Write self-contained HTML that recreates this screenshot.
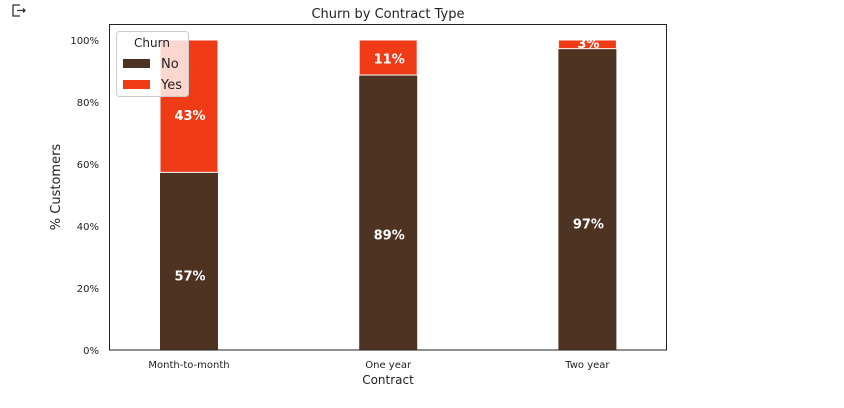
<!DOCTYPE html>
<html><head><meta charset="utf-8"><style>
body{margin:0;background:#fff;width:844px;height:403px;overflow:hidden;font-family:"Liberation Sans","DejaVu Sans",sans-serif}
svg text{font-family:"DejaVu Sans","Liberation Sans",sans-serif}
</style></head><body>
<svg id="c" width="844" height="403">
<g stroke="#333" fill="none" stroke-width="1.3"><path d="M20 5H13V16H20"/><path d="M17 10.5H25M23 8.5L25 10.5L23 12.5"/></g>
<text x="388" y="18" text-anchor="middle" font-size="13" fill="#222">Churn by Contract Type</text>
<g id="plot"></g>
<rect x="109.5" y="24.5" width="557" height="325.5" fill="none" stroke="#222" stroke-width="1"/>
<text x="388" y="384" text-anchor="middle" font-size="12" fill="#222">Contract</text>
<text transform="translate(60,187) rotate(-90)" text-anchor="middle" font-size="13" fill="#222">% Customers</text>
<g>
<rect x="116.5" y="31.5" width="72" height="65" rx="3" fill="#fff" fill-opacity="0.8" stroke="#ccc"/>
<text x="152" y="47" text-anchor="middle" font-size="12" fill="#222">Churn</text>
<rect x="123" y="59" width="27" height="9" fill="#4e3322"/>
<text x="161" y="68" font-size="13" fill="#222">No</text>
<rect x="123" y="80" width="27" height="9" fill="#f03b17"/>
<text x="161" y="89" font-size="13" fill="#222">Yes</text>
</g>
</svg>
<script>
const categories=["Month-to-month","One year","Two year"];
const noValues=[57.3,88.7,97.2];
const yesValues=[42.7,11.3,2.8];
const noLabels=["57%","89%","97%"];
const yesLabels=["43%","11%","3%"];
const yTicks=[0,20,40,60,80,100];
const NS="http://www.w3.org/2000/svg";
const g=document.getElementById("plot");
const y=v=>350-v*3.1;
const x=i=>189+i*199.2;
function mk(t,a){const e=document.createElementNS(NS,t);for(const k in a)e.setAttribute(k,a[k]);g.appendChild(e);return e;}
yTicks.forEach(t=>{const e=mk("text",{x:99,y:y(t)+4,"text-anchor":"end","font-size":10,fill:"#222"});e.textContent=t+"%";

});
categories.forEach((c,i)=>{
const b1=mk("rect",{x:x(i)-29,y:y(noValues[i]),width:58,height:y(0)-y(noValues[i]),fill:"#4e3322"});


const top=noValues[i]+yesValues[i];
const b2=mk("rect",{x:x(i)-29,y:y(top),width:58,height:y(noValues[i])-y(top),fill:"#f03b17",stroke:"#fff","stroke-width":1});


const l1=mk("text",{x:x(i)+1,y:y(noValues[i]*0.42)+5,"text-anchor":"middle","font-size":13,"font-weight":"bold",fill:"#fff"});l1.textContent=noLabels[i];


const l2=mk("text",{x:x(i)+1,y:y(noValues[i]+yesValues[i]*0.42)+3,"text-anchor":"middle","font-size":13,"font-weight":"bold",fill:"#fff"});l2.textContent=yesLabels[i];


const t=mk("text",{x:x(i),y:368,"text-anchor":"middle","font-size":10,fill:"#222"});t.textContent=c;


});
</script>
</body></html>
